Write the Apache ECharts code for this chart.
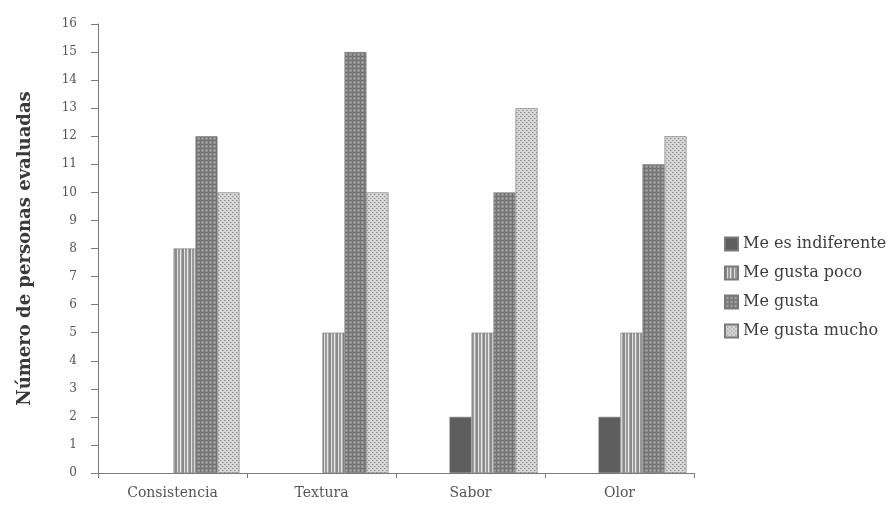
<!DOCTYPE html>
<html>
<head>
<meta charset="utf-8">
<script src="https://cdn.jsdelivr.net/npm/echarts@6/dist/echarts.min.js"></script>
<style>
  html, body { margin: 0; padding: 0; background: #fff; }
  #chart { width: 888px; height: 509px; }
</style>
</head>
<body>
<div id="chart"></div>
<script>
  // data
  const categories = ['Consistencia', 'Textura', 'Sabor', 'Olor']
  const seriesNames = ['Me es indiferente', 'Me gusta poco', 'Me gusta', 'Me gusta mucho']
  const indiferente = [0, 0, 2, 2]
  const gustaPoco = [8, 5, 5, 5]
  const gusta = [12, 15, 10, 11]
  const gustaMucho = [10, 10, 13, 12]
  const yTicks = { min: 0, max: 16, interval: 1 }

  const serif = 'DejaVu Serif'

  // small canvas tiles to imitate the grey print fills
  function tile(w, h, paint) {
    const c = document.createElement('canvas')
    c.width = w
    c.height = h
    paint(c.getContext('2d'))
    return { image: c, repeat: 'repeat' }
  }

  const fillPoco = tile(7, 4, ctx => {
    ctx.fillStyle = '#ababab'; ctx.fillRect(0, 0, 7, 4)
    ctx.fillStyle = '#8a8a8a'; ctx.fillRect(0, 0, 2, 4)
    ctx.fillStyle = '#e2e2e2'; ctx.fillRect(2, 0, 1, 4)
    ctx.fillStyle = '#9a9a9a'; ctx.fillRect(3, 0, 2, 4)
    ctx.fillStyle = '#e8e8e8'; ctx.fillRect(5, 0, 1, 4)
  })
  const fillGusta = tile(4, 4, ctx => {
    ctx.fillStyle = '#8e8e8e'; ctx.fillRect(0, 0, 4, 4)
    ctx.fillStyle = '#727272'; ctx.fillRect(0, 0, 4, 1); ctx.fillRect(0, 0, 1, 4)
    ctx.fillStyle = '#b4b4b4'; ctx.fillRect(2, 2, 1, 1)
  })
  const fillMucho = tile(4, 4, ctx => {
    ctx.fillStyle = '#d8d8d8'; ctx.fillRect(0, 0, 4, 4)
    ctx.fillStyle = '#8c8c8c'; ctx.fillRect(0, 0, 1, 1); ctx.fillRect(2, 2, 1, 1)
    ctx.fillStyle = '#b0b0b0'; ctx.fillRect(1, 0, 1, 1); ctx.fillRect(3, 2, 1, 1)
  })

  function barSeries(name, data, color) {
    return {
      name,
      type: 'bar',
      xAxisIndex: 1,
      yAxisIndex: 1,
      // a zero bar leaves no mark in the print
      data: data.map(v => (v === 0 ? { value: v, itemStyle: { borderWidth: 0 } } : v)),
      barWidth: 22,
      barGap: '0%',
      itemStyle: { color, borderColor: '#7a7a7a', borderWidth: 0.6 }
    }
  }

  const chart = echarts.init(document.getElementById('chart'))
  chart.setOption({
    animation: false,
    backgroundColor: '#fff',
    // grid 0 carries the visible axes, grid 1 the bars (shifted right as in the print)
    grid: [
      { left: 98, right: 194, top: 24, bottom: 36 },
      { left: 121, right: 171, top: 24, bottom: 36 }
    ],
    legend: {
      orient: 'vertical',
      left: 719,
      top: 231,
      itemWidth: 13,
      itemHeight: 13,
      itemGap: 13,
      icon: 'rect',
      data: seriesNames,
      textStyle: { fontFamily: serif, fontSize: 16, color: '#3c3c3c' }
    },
    xAxis: [
      {
        type: 'category',
        gridIndex: 0,
        data: categories,
        axisLine: { lineStyle: { color: '#7c7c7c', width: 1 } },
        axisTick: { show: true, length: 5, lineStyle: { color: '#7c7c7c' } },
        axisLabel: { fontFamily: serif, fontSize: 14, color: '#555', margin: 13 }
      },
      {
        type: 'category',
        gridIndex: 1,
        data: categories,
        show: false
      }
    ],
    yAxis: [
      {
        type: 'value',
        gridIndex: 0,
        min: yTicks.min,
        max: yTicks.max,
        interval: yTicks.interval,
        name: 'Número de personas evaluadas',
        nameLocation: 'middle',
        nameGap: 64,
        nameTextStyle: { fontFamily: serif, fontSize: 18, fontWeight: 'bold', color: '#3a3a3a' },
        axisLine: { show: true, lineStyle: { color: '#7c7c7c', width: 1 } },
        axisTick: { show: true, length: 7, lineStyle: { color: '#7c7c7c' } },
        axisLabel: { fontFamily: serif, fontSize: 12, color: '#555', margin: 21 },
        splitLine: { show: false }
      },
      {
        type: 'value',
        gridIndex: 1,
        min: yTicks.min,
        max: yTicks.max,
        interval: yTicks.interval,
        show: false,
        splitLine: { show: false }
      }
    ],
    series: [
      barSeries(seriesNames[0], indiferente, '#5e5e5e'),
      barSeries(seriesNames[1], gustaPoco, fillPoco),
      barSeries(seriesNames[2], gusta, fillGusta),
      barSeries(seriesNames[3], gustaMucho, fillMucho)
    ]
  })
</script>
</body>
</html>
